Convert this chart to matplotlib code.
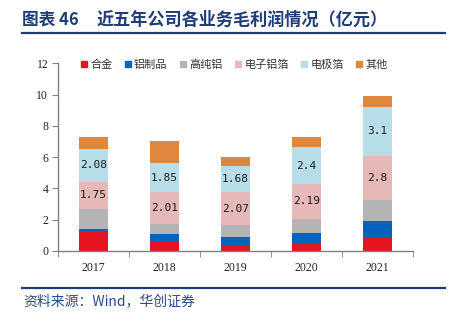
import numpy as np
import matplotlib.pyplot as plt
from matplotlib.lines import Line2D

plt.rcParams['font.family'] = ['Noto Sans CJK SC', 'DejaVu Sans']

years = ['2017', '2018', '2019', '2020', '2021']
series_names = ['合金', '铝制品', '高纯铝', '电子铝箔', '电极箔', '其他']
alloy = [1.28, 0.66, 0.36, 0.53, 0.92]
al_products = [0.13, 0.43, 0.54, 0.60, 1.00]
hp_aluminium = [1.28, 0.66, 0.77, 0.94, 1.37]
elec_foil = [1.75, 2.01, 2.07, 2.19, 2.80]
electrode_foil = [2.08, 1.85, 1.68, 2.40, 3.10]
other = [0.74, 1.44, 0.56, 0.65, 0.73]

colors = ['#E6141E', '#0563BE', '#B4B4B4', '#E6B9B8', '#B7DEE8', '#DE883E']
labelled = {3: elec_foil, 4: electrode_foil}

fig = plt.figure(figsize=(4.53, 3.22), dpi=100)
ax = fig.add_axes([0.128, 0.2205, 0.784, 0.583])

x = np.arange(len(years))
bottom = np.zeros(len(years))
for i, vals in enumerate([alloy, al_products, hp_aluminium, elec_foil, electrode_foil, other]):
    vals = np.array(vals)
    ax.bar(x, vals, width=0.41, bottom=bottom, color=colors[i], label=series_names[i], linewidth=0)
    if i in labelled:
        for xi, b, v in zip(x, bottom, vals):
            ax.text(xi, b + v / 2, f'{v:g}', ha='center', va='center', fontsize=8,
                    family='DejaVu Sans Mono', color='#1a1a1a')
    bottom += vals

ax.set_xlim(-0.5, 4.5)
ax.set_ylim(0, 12)
ax.set_yticks(range(0, 13, 2))
ax.set_xticks(x)
ax.set_xticklabels(years)
ax.set_xticks(np.arange(-0.5, 5, 1), minor=True)
ax.tick_params(axis='x', which='major', length=0, pad=8)
ax.tick_params(axis='x', which='minor', length=4, color='#808080', direction='out')
ax.tick_params(axis='y', length=4, color='#808080', direction='out', pad=3)
for lab in ax.get_xticklabels() + ax.get_yticklabels():
    lab.set_family('Liberation Serif')
    lab.set_fontsize(8.5)
    lab.set_color('#222222')
for side in ['top', 'right']:
    ax.spines[side].set_visible(False)
for side in ['left', 'bottom']:
    ax.spines[side].set_color('#808080')
    ax.spines[side].set_linewidth(1.0)

handles = [Line2D([], [], marker='s', linestyle='none', markersize=5, color=c) for c in colors]
fig.legend(handles, series_names, loc='center', bbox_to_anchor=(0.517, 0.8), ncol=6,
           frameon=False, fontsize=8, handlelength=0.6, handletextpad=0.25,
           columnspacing=1.1, labelcolor='#333333')

# header and footer
navy = '#1F3C7A'
fig.text(0.049, 0.938, '图表 46', fontsize=12, weight='bold', color=navy, va='center')
fig.text(0.214, 0.938, '近五年公司各业务毛利润情况（亿元）', fontsize=12.3, weight='bold',
         color=navy, va='center')
fig.add_artist(Line2D([0.049, 0.982], [0.897, 0.897], color=navy, lw=1.6))
fig.add_artist(Line2D([0.049, 0.982], [0.107, 0.107], color=navy, lw=1.6))
fig.text(0.051, 0.063, '资料来源：Wind，华创证券', fontsize=10, style='italic',
         color='#2B4A8A', va='center')

fig.savefig('out.png', dpi=100)
